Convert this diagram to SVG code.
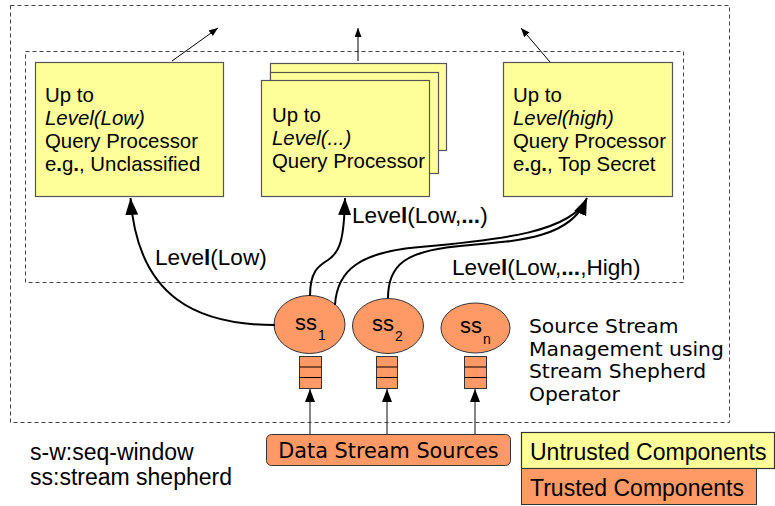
<svg xmlns="http://www.w3.org/2000/svg" width="775" height="506" viewBox="0 0 775 506">
<style>
.dash{fill:none;stroke:#444;stroke-width:1;stroke-dasharray:4,3}
.qp{fill:#FFFF99;stroke:#555;stroke-width:1.2}
.tr{fill:#FF9966;stroke:#333;stroke-width:1}
.t20{font-family:"Liberation Sans",Arial,sans-serif;font-size:20.4px;fill:#000}
.t22{font-family:"Liberation Sans",Arial,sans-serif;font-size:22.6px;fill:#000}
.ss{font-family:"Liberation Sans",Arial,sans-serif;font-size:22px;fill:#000}
.t23{font-family:"Liberation Sans",Arial,sans-serif;font-size:23px;fill:#000}
.v20{font-family:"DejaVu Sans",Verdana,sans-serif;font-size:20.3px;fill:#000}
.v21{font-family:"DejaVu Sans",Verdana,sans-serif;font-size:20.8px;fill:#000}
.sub{font-family:"Liberation Sans",Arial,sans-serif;font-size:14px;fill:#000}
.curve{fill:none;stroke:#000;stroke-width:2}
.thin{fill:none;stroke:#000;stroke-width:1}
.up{fill:none;stroke:#333;stroke-width:1.2}
</style>
<defs>
<marker id="big" markerUnits="userSpaceOnUse" markerWidth="18" markerHeight="14" refX="17" refY="6.5" orient="auto">
<path d="M0,0 L17,6.5 L0,13 Z" fill="#000"/>
</marker>
<marker id="small" markerUnits="userSpaceOnUse" markerWidth="10" markerHeight="8" refX="9" refY="3.5" orient="auto">
<path d="M0,0 L9,3.5 L0,7 Z" fill="#000"/>
</marker>
<marker id="mid" markerUnits="userSpaceOnUse" markerWidth="14" markerHeight="11" refX="13" refY="5" orient="auto">
<path d="M0,0 L13,5 L0,10 Z" fill="#000"/>
</marker>
</defs>

<rect class="dash" x="10.5" y="5.5" width="719" height="417"/>
<rect class="dash" x="25.5" y="51.5" width="658" height="231"/>

<g id="qp-low">
<rect class="qp" x="35.5" y="62.5" width="188" height="134"/>
<text class="t20" x="45" y="102">Up to</text>
<text class="t20" x="45" y="125" font-style="italic">Level(Low)</text>
<text class="t20" x="45" y="148">Query Processor</text>
<text class="t20" x="45" y="171">e<tspan font-weight="bold">.</tspan>g<tspan font-weight="bold">.</tspan>, Unclassified</text>
</g>

<g id="qp-mid">
<rect class="qp" x="270.5" y="63.5" width="176" height="87"/>
<rect class="qp" x="270.5" y="72.5" width="168" height="101"/>
<rect class="qp" x="261.5" y="80.5" width="168" height="116"/>
<text class="t20" x="272" y="122">Up to</text>
<text class="t20" x="272" y="145" font-style="italic">Level(...)</text>
<text class="t20" x="272" y="168">Query Processor</text>
</g>

<g id="qp-high">
<rect class="qp" x="503.5" y="62.5" width="169" height="134"/>
<text class="t20" x="513" y="102">Up to</text>
<text class="t20" x="513" y="125" font-style="italic">Level(high)</text>
<text class="t20" x="513" y="148">Query Processor</text>
<text class="t20" x="513" y="171">e<tspan font-weight="bold">.</tspan>g<tspan font-weight="bold">.</tspan>, Top Secret</text>
</g>

<g id="ss1">
<ellipse class="tr" cx="309.5" cy="324.5" rx="35.5" ry="29"/>
<text class="ss" x="295" y="330">ss</text>
<text class="sub" x="318" y="340">1</text>
<rect class="tr" x="299.5" y="356.5" width="22" height="32"/>
<line class="thin" x1="299.5" y1="367" x2="321.5" y2="367"/>
<line class="thin" x1="299.5" y1="377.5" x2="321.5" y2="377.5"/>
</g>

<g id="ss2">
<ellipse class="tr" cx="388" cy="326" rx="35.5" ry="27.5"/>
<text class="ss" x="372" y="331">ss</text>
<text class="sub" x="395" y="341">2</text>
<rect class="tr" x="376.5" y="356.5" width="21" height="32"/>
<line class="thin" x1="376.5" y1="367" x2="397.5" y2="367"/>
<line class="thin" x1="376.5" y1="377.5" x2="397.5" y2="377.5"/>
</g>

<g id="ssn">
<ellipse class="tr" cx="475.5" cy="328" rx="34.5" ry="25"/>
<text class="ss" x="460" y="333">ss</text>
<text class="sub" x="483" y="344">n</text>
<rect class="tr" x="464.5" y="356.5" width="22" height="32"/>
<line class="thin" x1="464.5" y1="367" x2="486.5" y2="367"/>
<line class="thin" x1="464.5" y1="377.5" x2="486.5" y2="377.5"/>
</g>

<g id="sources">
<rect class="tr" x="266.5" y="434.5" width="244" height="31" rx="5" ry="5"/>
<text class="v21" x="388.5" y="458" text-anchor="middle">Data Stream Sources</text>
</g>

<g id="legend">
<rect class="qp" x="521.5" y="432.5" width="253" height="36" style="stroke:#333"/>
<text class="t23" x="530" y="460">Untrusted Components</text>
<rect class="tr" x="521.5" y="468.5" width="235" height="36"/>
<text class="t23" x="530" y="496">Trusted Components</text>
<text class="t23" x="30" y="460">s-w:seq-window</text>
<text class="t23" x="30" y="485">ss:stream shepherd</text>
</g>

<g id="ssm-label">
<text class="v20" x="529" y="333">Source Stream</text>
<text class="v20" x="529" y="355.5">Management using</text>
<text class="v20" x="529" y="378">Stream Shepherd</text>
<text class="v20" x="529" y="400.5">Operator</text>
</g>

<g id="connectors">
<path class="curve" d="M275,325 C200,325 138,300 130.5,198" marker-end="url(#big)"/>
<path class="curve" d="M310,296 C310,272 318,266 328,260 C340,252 344,240 345,198" marker-end="url(#big)"/>
<path class="curve" d="M335,305 C337,270 360,252 420,247 C500,240 572,232 587,198" marker-end="url(#big)"/>
<path class="curve" d="M388,298 C388,265 405,251 460,246 C520,241 570,238 586,200"/>
<path class="thin" d="M172,61 L218,28" marker-end="url(#small)"/>
<path class="thin" d="M358,61 L358,28" marker-end="url(#small)"/>
<path class="thin" d="M550,62 L521,28" marker-end="url(#small)"/>
<path class="up" d="M310,434 L310,389" marker-end="url(#mid)"/>
<path class="up" d="M387,434 L387,389" marker-end="url(#mid)"/>
<path class="up" d="M475,434 L475,389" marker-end="url(#mid)"/>
<text class="t22" x="155" y="265">Leve<tspan font-weight="bold">l</tspan>(Low)</text>
<text class="t22" x="352" y="223">Leve<tspan font-weight="bold">l</tspan>(Low,<tspan font-weight="bold">...</tspan>)</text>
<text class="t22" x="452" y="275">Leve<tspan font-weight="bold">l</tspan>(Low,<tspan font-weight="bold">...</tspan>,High)</text>
</g>
</svg>
